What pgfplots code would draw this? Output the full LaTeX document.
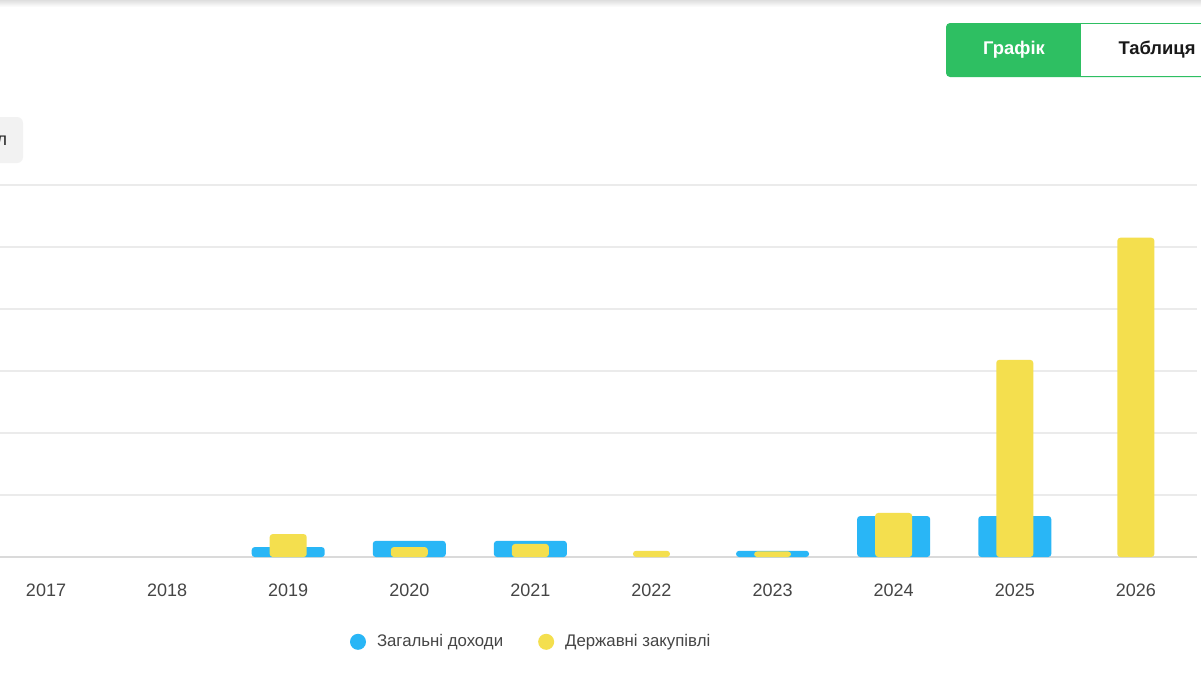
\documentclass[border=0pt]{standalone}
\usepackage{pgfplots}
\pgfplotsset{compat=1.18}
\usepackage{fontspec}
\setmainfont{Liberation Sans}
\definecolor{cblue}{HTML}{29B6F6}
\definecolor{cyellow}{HTML}{F4DF4E}
\definecolor{cgreen}{HTML}{2EBF62}
\definecolor{cgrid}{HTML}{EBEBEB}
\definecolor{cbase}{HTML}{DADADA}
\definecolor{ctext}{HTML}{454545}
\begin{document}
\begin{tikzpicture}
\path[use as bounding box] (0pt,0pt) rectangle (600.5pt,-337.5pt);
\clip (0pt,0pt) rectangle (600.5pt,-337.5pt);
\fill[white] (0pt,0pt) rectangle (600.5pt,-337.5pt);
\begin{scope}[x=0.5pt,y=-0.5pt]
\shade[top color=black!13, bottom color=white] (0,0) rectangle (1201,7);
% buttons
\fill[cgreen, rounded corners=2pt] (946,23) rectangle (1240,77);
\fill[white] (1081,24.3) rectangle (1240,75.7);
\node[text=white, font=\bfseries\fontsize{9.2}{11}\selectfont] at (1014,50) {Графік};
\node[text=black!90, font=\bfseries\fontsize{9.2}{11}\selectfont] at (1157,50) {Таблиця};
\fill[black!5, rounded corners=3pt] (-30,117) rectangle (23,163);
\node[anchor=base east, inner sep=0pt, text=black!85, font=\fontsize{9}{11}\selectfont] at (7.5,145) {л};
\end{scope}
\begin{axis}[
  at={(0pt,-278.5pt)}, anchor=south west,
  scale only axis, width=598.5pt, height=186pt,
  xmin=-0.38, xmax=9.505, ymin=0, ymax=6,
  axis line style={draw=none},
  tick style={draw=none},
  ytick={1,2,3,4,5,6}, yticklabels={},
  ymajorgrids, grid style={cgrid, line width=0.75pt},
  extra y ticks={0}, extra y tick labels={},
  extra y tick style={grid style={cbase, line width=1pt}},
  xtick={0,...,9},
  xticklabels={2017,2018,2019,2020,2021,2022,2023,2024,2025,2026},
  xticklabel style={anchor=center, yshift=-16.5pt, text=ctext, font=\fontsize{9}{11}\selectfont},
  major tick length=0pt,
  clip=false,
  legend columns=2,
  legend style={draw=none, fill=none, at={(0.4475,-0.228)}, anchor=center,
    font=\fontsize{8.4}{10}\selectfont, text=ctext,
    /tikz/every even column/.append style={column sep=12pt},
    nodes={inner xsep=5.5pt}},
]
\addplot[ybar, bar width=36.5pt, bar shift=0pt, fill=cblue, draw=none, rounded corners=1.5pt,
  legend image code/.code={\fill[cblue] (4pt,0pt) circle (4pt);}]
  coordinates {(2,0.16) (3,0.26) (4,0.26) (6,0.10) (7,0.66) (8,0.66)};
\addlegendentry{Загальні доходи}
\addplot[ybar, bar width=18.5pt, bar shift=0pt, fill=cyellow, draw=none, rounded corners=1.5pt,
  legend image code/.code={\fill[cyellow] (4pt,0pt) circle (4pt);}]
  coordinates {(2,0.37) (3,0.16) (4,0.21) (5,0.10) (6,0.09) (7,0.71) (8,3.18) (9,5.15)};
\addlegendentry{Державні закупівлі}
\end{axis}
\end{tikzpicture}
\end{document}
